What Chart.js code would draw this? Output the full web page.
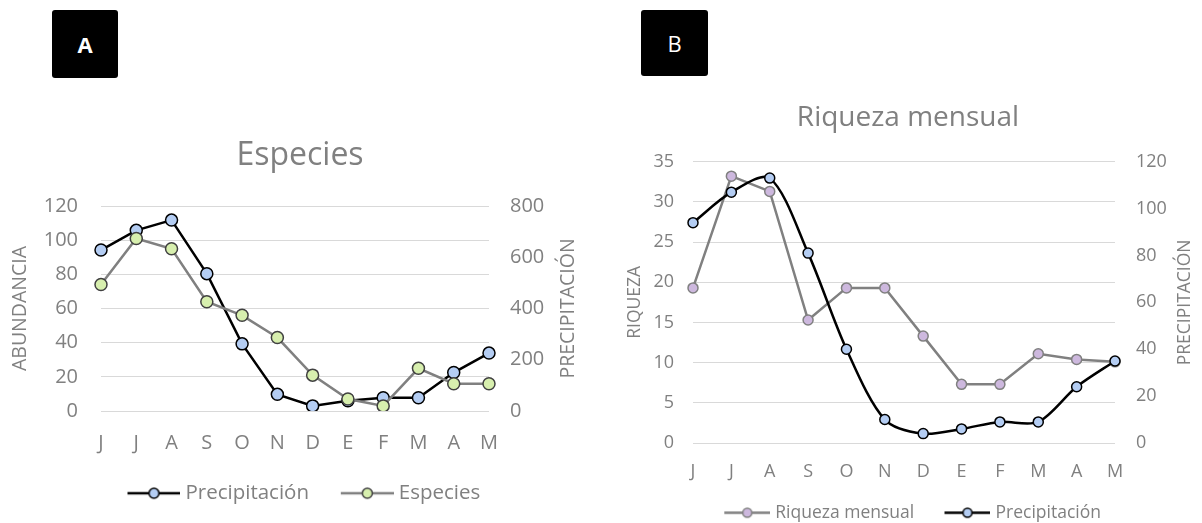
<!DOCTYPE html>
<html>
<head>
<meta charset="utf-8">
<title>Especies y riqueza mensual</title>
<script src="https://cdn.jsdelivr.net/npm/chart.js"></script>
<style>
    body { margin: 0; background: #fff; width: 1202px; height: 523px; overflow: hidden; position: relative; font-family: "Open Sans", sans-serif; }
    .tag { position: absolute; background: #000; color: #fff; border-radius: 3px; text-align: center; font-size: 22px; }
    #tagA { left: 52px; top: 10px; width: 66px; height: 68px; line-height: 68px; font-weight: bold; }
    #tagB { left: 641px; top: 10px; width: 67px; height: 66px; line-height: 66px; }
    canvas { position: absolute; }
    #chartA { left: 0; top: 120px; }
    #chartB { left: 614px; top: 85px; }
</style>
</head>
<body>
    <div class="tag" id="tagA">A</div>
    <div class="tag" id="tagB">B</div>
    <canvas id="chartA" width="600" height="403"></canvas>
    <canvas id="chartB" width="588" height="460"></canvas>
<script>
// months, June to May
const months = ['J', 'J', 'A', 'S', 'O', 'N', 'D', 'E', 'F', 'M', 'A', 'M'];

// panel A
const precipA = [628, 705, 745, 536, 262, 65, 20, 40, 52, 52, 150, 226];
const especiesA = [74, 101, 95, 64, 56, 43, 21, 7, 3, 25, 16, 16];
const abundTicks = [0, 120, 20];   // min, max, step
const precipTicksA = [0, 800, 200];

// panel B
const riquezaB = [19.3, 33.2, 31.3, 15.3, 19.3, 19.3, 13.3, 7.3, 7.3, 11.1, 10.4, 10.1];
const precipB = [94, 107, 113, 81, 40, 10, 4, 6, 9, 9, 24, 35];
const riqTicks = [0, 35, 5];
const precipTicksB = [0, 120, 20];

const GRAY = '#808080';
const GRID = '#d9d9d9';
const FONT = '"Open Sans"';

Chart.defaults.font.family = FONT;
Chart.defaults.color = GRAY;

// Excel style legend sample: line with a marker in the middle,
// with some empty room on the left to space the items
function legendIcon(len, gap, r, lineColor, fill, border) {
    const c = document.createElement('canvas');
    c.width = len + gap;
    c.height = 2 * r + 6;
    const g = c.getContext('2d');
    const cy = c.height / 2;
    g.strokeStyle = lineColor;
    g.lineWidth = 2.5;
    g.beginPath();
    g.moveTo(gap, cy);
    g.lineTo(gap + len, cy);
    g.stroke();
    g.beginPath();
    g.arc(gap + len / 2, cy, r, 0, 2 * Math.PI);
    g.fillStyle = fill;
    g.fill();
    g.lineWidth = 1.5;
    g.strokeStyle = border;
    g.stroke();
    return c;
}

// right axis title reads bottom to top, like the left one
const rightTitle = {
    id: 'rightTitle',
    afterDraw(chart, args, opts) {
        const ctx = chart.ctx;
        const area = chart.chartArea;
        ctx.save();
        ctx.translate(opts.x, (area.top + area.bottom) / 2);
        ctx.rotate(-Math.PI / 2);
        ctx.font = opts.size + 'px ' + FONT;
        ctx.fillStyle = GRAY;
        ctx.textAlign = 'center';
        ctx.textBaseline = 'middle';
        ctx.fillText(opts.text, 0, 0);
        ctx.restore();
    }
};

function makeChart(id, s) {
    const icons = s.icons;
    return new Chart(document.getElementById(id), {
        type: 'line',
        data: { labels: months, datasets: s.datasets },
        plugins: [rightTitle],
        options: {
            responsive: false,
            animation: false,
            layout: { padding: { left: 0, right: 0, top: 0, bottom: s.padBottom } },
            plugins: {
                tooltip: { enabled: false },
                title: {
                    display: true,
                    text: s.title,
                    color: GRAY,
                    font: { size: s.titleSize, weight: 'normal', lineHeight: 1.2 },
                    padding: { top: s.titleTop, bottom: s.titleBottom }
                },
                legend: {
                    position: 'bottom',
                    labels: {
                        color: GRAY,
                        font: { size: s.legendSize },
                        usePointStyle: true,
                        pointStyleWidth: s.legendBox,
                        padding: s.legendPad,
                        generateLabels: function(chart) {
                            const items = Chart.defaults.plugins.legend.labels.generateLabels(chart);
                            items.sort((a, b) => a.datasetIndex - b.datasetIndex);
                            items.forEach(it => { it.pointStyle = icons[it.datasetIndex]; });
                            return items;
                        }
                    }
                },
                rightTitle: { text: 'PRECIPITACIÓN', x: s.rightTitleX, size: s.axisTitleSize }
            },
            scales: {
                x: {
                    grid: { display: false },
                    border: { display: false },
                    ticks: { font: { size: s.tickSize }, padding: s.xPad, maxRotation: 0 },
                    afterFit: function(scale) { scale.height = s.xHeight; }
                },
                y: {
                    position: 'left',
                    min: s.leftTicks[0], max: s.leftTicks[1],
                    ticks: { stepSize: s.leftTicks[2], font: { size: s.tickSize }, padding: s.yPad },
                    grid: { color: GRID, lineWidth: 1, drawTicks: false },
                    border: { display: false },
                    title: {
                        display: true,
                        text: s.leftTitle,
                        color: GRAY,
                        font: { size: s.axisTitleSize, lineHeight: 1.2 },
                        padding: { top: s.leftTitlePad, bottom: 0 }
                    },
                    afterFit: function(scale) { scale.width = s.leftWidth; }
                },
                y1: {
                    position: 'right',
                    min: s.rightTicks[0], max: s.rightTicks[1],
                    ticks: { stepSize: s.rightTicks[2], font: { size: s.tickSize }, padding: s.y1Pad },
                    grid: { display: false, drawTicks: false },
                    border: { display: false },
                    afterFit: function(scale) { scale.width = s.rightWidth; }
                }
            }
        }
    });
}

makeChart('chartA', {
    title: 'Especies',
    titleSize: 32, titleTop: 16.8, titleBottom: 30.8,
    legendSize: 20.5, legendBox: 55.5, legendPad: 24, padBottom: 9.5,
    tickSize: 20, xPad: 12, xHeight: 48, yPad: 23, y1Pad: 21,
    leftWidth: 101, rightWidth: 111,
    leftTitle: 'ABUNDANCIA', axisTitleSize: 19.5, leftTitlePad: 8.3, rightTitleX: 568,
    leftTicks: abundTicks, rightTicks: precipTicksA,
    icons: [
        legendIcon(53, 13, 5, '#000', '#b4cdf3', '#000'),
        legendIcon(53, 13, 5, GRAY, '#d7efae', '#404040')
    ],
    datasets: [
        {
            label: 'Precipitación',
            data: precipA,
            yAxisID: 'y1',
            order: 1,
            borderColor: '#000',
            borderWidth: 2.5,
            pointRadius: 6,
            pointBackgroundColor: '#b4cdf3',
            pointBorderColor: '#000',
            pointBorderWidth: 1.5,
            tension: 0
        },
        {
            label: 'Especies',
            data: especiesA,
            yAxisID: 'y',
            order: 0,
            borderColor: GRAY,
            borderWidth: 2.5,
            pointRadius: 6,
            pointBackgroundColor: '#d7efae',
            pointBorderColor: '#404040',
            pointBorderWidth: 1.5,
            tension: 0
        }
    ]
});

makeChart('chartB', {
    title: 'Riqueza mensual',
    titleSize: 28, titleTop: 16.2, titleBottom: 26.9,
    legendSize: 17.5, legendBox: 51.5, legendPad: 21, padBottom: 13.5,
    tickSize: 18, xPad: 10, xHeight: 40, yPad: 19, y1Pad: 21,
    leftWidth: 79, rightWidth: 87,
    leftTitle: 'RIQUEZA', axisTitleSize: 17.5, leftTitlePad: 10.5, rightTitleX: 571,
    leftTicks: riqTicks, rightTicks: precipTicksB,
    icons: [
        legendIcon(46, 13, 4.5, GRAY, '#cdb8de', GRAY),
        legendIcon(46, 13, 4.5, '#000', '#b4cdf3', '#000')
    ],
    datasets: [
        {
            label: 'Riqueza mensual',
            data: riquezaB,
            yAxisID: 'y',
            order: 1,
            borderColor: GRAY,
            borderWidth: 2.5,
            pointRadius: 5,
            pointBackgroundColor: '#cdb8de',
            pointBorderColor: GRAY,
            pointBorderWidth: 1.5,
            tension: 0
        },
        {
            label: 'Precipitación',
            data: precipB,
            yAxisID: 'y1',
            order: 0,
            borderColor: '#000',
            borderWidth: 2.5,
            pointRadius: 5,
            pointBackgroundColor: '#b4cdf3',
            pointBorderColor: '#000',
            pointBorderWidth: 1.5,
            tension: 0.3
        }
    ]
});
</script>
</body>
</html>
